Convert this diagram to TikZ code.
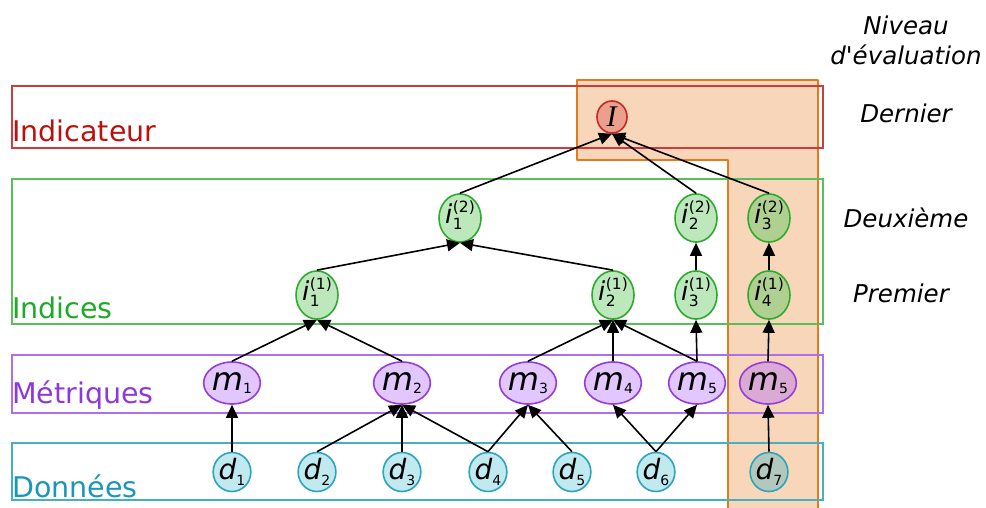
\documentclass[tikz,border=0pt]{standalone}
\usepackage{fontspec}
\setmainfont{DejaVu Sans}
\newfontfamily\serifit{Liberation Serif}
\usetikzlibrary{shapes.geometric,arrows.meta}
\definecolor{orfill}{RGB}{248,214,186}
\definecolor{ordraw}{RGB}{228,122,32}
\definecolor{redbox}{RGB}{205,60,60}
\definecolor{redtxt}{RGB}{190,15,15}
\definecolor{grnbox}{RGB}{90,190,90}
\definecolor{grntxt}{RGB}{30,170,40}
\definecolor{purbox}{RGB}{175,110,235}
\definecolor{purtxt}{RGB}{140,55,225}
\definecolor{tealbox}{RGB}{70,175,195}
\definecolor{tealtxt}{RGB}{25,150,185}
\definecolor{Ifill}{RGB}{234,160,140}
\definecolor{Idraw}{RGB}{200,40,40}
\definecolor{gfill}{RGB}{188,232,188}
\definecolor{gdraw}{RGB}{45,170,45}
\definecolor{gfillo}{RGB}{176,208,145}
\definecolor{pfill}{RGB}{226,198,255}
\definecolor{pdraw}{RGB}{150,60,220}
\definecolor{pfillo}{RGB}{218,170,212}
\definecolor{tfill}{RGB}{192,234,240}
\definecolor{tdraw}{RGB}{45,165,185}
\definecolor{tfillo}{RGB}{178,200,190}
\newcommand{\mv}[2]{{\fontsize{32}{32}\selectfont\itshape #1}\raisebox{-3pt}{\fontsize{14}{14}\selectfont #2}}
\newcommand{\dv}[2]{{\fontsize{28}{28}\selectfont\itshape #1}\raisebox{-6pt}{\fontsize{14}{14}\selectfont #2}}
\newcommand{\iv}[2]{{\fontsize{26}{26}\selectfont\itshape i}\hspace{0.5pt}\raisebox{-6pt}{\fontsize{15.5}{17}\selectfont\renewcommand{\arraystretch}{1}\begin{tabular}[b]{@{}l@{}}(#1)\\#2\end{tabular}}}
\tikzset{
  nd/.style={ellipse, draw, line width=1.6pt, inner sep=0pt},
  Inode/.style={nd, fill=Ifill, draw=Idraw, minimum width=30pt, minimum height=32pt},
  gnode/.style={nd, fill=gfill, draw=gdraw, minimum width=38pt, minimum height=46pt},
  pnode/.style={nd, fill=pfill, draw=pdraw, minimum width=50pt, minimum height=42pt},
  tnode/.style={nd, fill=tfill, draw=tdraw, minimum width=34pt, minimum height=39pt},
  edge/.style={line width=1.6pt, -{Triangle[length=13pt,width=12pt]}},
  layer/.style={line width=1.2pt},
  lefttxt/.style={anchor=base west, inner sep=0pt, font=\fontsize{28.5}{30}\selectfont},
  righttxt/.style={anchor=base, inner sep=0pt, font=\fontsize{24.5}{26}\selectfont\itshape},
}
\begin{document}
\begin{tikzpicture}[x=1pt,y=-1pt]
\useasboundingbox (0,0) rectangle (986,508);
% orange highlight
\fill[orfill] (728,508) -- (728,160) -- (577,160) -- (577,80) -- (818,80) -- (818,508) -- cycle;
\draw[ordraw, line width=2.2pt, line join=round] (728,508) -- (728,160) -- (577,160) -- (577,80) -- (818,80) -- (818,508);
% layer boxes
\draw[layer, redbox] (12,86) rectangle (823,148);
\draw[layer, grnbox] (12,179) rectangle (823,324);
\draw[layer, purbox] (12,355) rectangle (823,413);
\draw[layer, tealbox] (12,443) rectangle (823,500);
\node[lefttxt, text=redtxt] (tInd) at (12,142) {Indicateur};
\node[lefttxt, text=grntxt] (tIdc) at (12,318) {Indices};
\node[lefttxt, text=purtxt] (tMet) at (12,403) {Métriques};
\node[lefttxt, text=tealtxt] (tDon) at (12,497) {Données};
% right labels
\node[righttxt] (tNiv) at (906,35) {Niveau};
\node[righttxt] (tEva) at (906,65) {d\textquotesingle évaluation};
\node[righttxt] (tDer) at (906,123) {Dernier};
\node[righttxt] (tDeu) at (906,227) {Deuxième};
\node[righttxt] (tPre) at (901,302) {Premier};
% nodes
\node[Inode] (I) at (612,117) {\serifit\fontsize{30}{30}\selectfont\itshape I\kern1pt};
\node[gnode] (i12) at (460,218) {\iv{2}{1}};
\node[gnode] (i22) at (696,218) {\iv{2}{2}};
\node[gnode, fill=gfillo] (i32) at (769,218) {\iv{2}{3}};
\node[gnode] (i11) at (317,295) {\iv{1}{1}};
\node[gnode] (i21) at (613,295) {\iv{1}{2}};
\node[gnode] (i31) at (696,295) {\iv{1}{3}};
\node[gnode, fill=gfillo] (i41) at (769,295) {\iv{1}{4}};
\node[pnode] (m1) at (232,383) {\mv{m}{1}};
\node[pnode] (m2) at (402,383) {\mv{m}{2}};
\node[pnode] (m3) at (528,383) {\mv{m}{3}};
\node[pnode] (m4) at (613,383) {\mv{m}{4}};
\node[pnode] (m5) at (697,383) {\mv{m}{5}};
\node[pnode, fill=pfillo] (m5b) at (768,383) {\mv{m}{5}};
\node[tnode] (d1) at (232,472) {\dv{d}{1}};
\node[tnode] (d2) at (317,472) {\dv{d}{2}};
\node[tnode] (d3) at (402,472) {\dv{d}{3}};
\node[tnode] (d4) at (488,472) {\dv{d}{4}};
\node[tnode] (d5) at (572,472) {\dv{d}{5}};
\node[tnode] (d6) at (656,472) {\dv{d}{6}};
\node[tnode, fill=tfillo] (d7) at (769,472) {\dv{d}{7}};
% edges
\foreach \a/\b in {d1/m1, d2/m2, d3/m2, d4/m2, d4/m3, d5/m3, d6/m4, d6/m5, d7/m5b,
  m1/i11, m2/i11, m3/i21, m4/i21, m5/i21, m5/i31, m5b/i41,
  i11/i12, i21/i12, i31/i22, i41/i32, i12/I, i22/I, i32/I}
  \draw[edge] (\a.north) -- (\b.south);
\end{tikzpicture}
\end{document}
